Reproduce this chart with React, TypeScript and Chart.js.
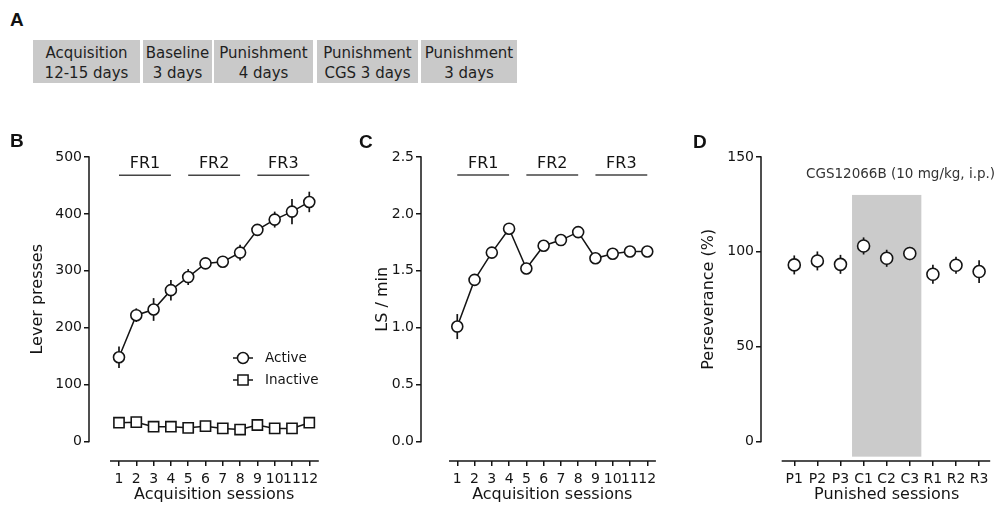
import React, { useEffect, useRef } from 'react';
import { Chart, registerables } from 'chart.js';

Chart.register(...registerables);

// ---------- data ----------
const sessions = [1, 2, 3, 4, 5, 6, 7, 8, 9, 10, 11, 12];
const activePresses = [148, 222, 232, 266, 289, 313, 316, 332, 372, 390, 404, 421];
const activeErr = [19, 12, 20, 18, 14, 8, 8, 14, 8, 14, 22, 18];
const inactivePresses = [33, 34, 26, 26, 24, 27, 23, 21, 29, 23, 23, 33];
const inactiveErr = [4, 3, 3, 3, 3, 3, 3, 3, 4, 3, 3, 4];

const lsPerMin = [1.01, 1.42, 1.66, 1.87, 1.52, 1.72, 1.77, 1.84, 1.61, 1.65, 1.67, 1.67];
const lsErr = [0.11, 0.04, 0.04, 0.05, 0.05, 0.03, 0.03, 0.04, 0.04, 0.04, 0.03, 0.04];

const punishedIndex = [1, 2, 3, 4, 5, 6, 7, 8, 9];
const punishedLabels = ['P1', 'P2', 'P3', 'C1', 'C2', 'C3', 'R1', 'R2', 'R3'];
const perseverance = [93.1, 95.2, 93.4, 103.1, 96.6, 99.1, 88.2, 92.9, 89.6];
const perseveranceErr = [5, 5, 5, 4.5, 4.5, 3.5, 5, 4.5, 6];

const pressTicks = [0, 100, 200, 300, 400, 500];
const lsTicks = [0, 0.5, 1.0, 1.5, 2.0, 2.5];
const perseveranceTicks = [0, 50, 100, 150];

const frGroups = [
  { label: 'FR1', from: 1, to: 4 },
  { label: 'FR2', from: 5, to: 8 },
  { label: 'FR3', from: 9, to: 12 },
];

const cgsBand = { from: 3.5, to: 6.5, top: 130, bottom: -8 };
const cgsLabel = 'CGS12066B (10 mg/kg, i.p.)';

const phaseLines = [
  ['Acquisition', '12-15 days'],
  ['Baseline', '3 days'],
  ['Punishment', '4 days'],
  ['Punishment', 'CGS 3 days'],
  ['Punishment', '3 days'],
];

// ---------- styles ----------
const FONT = '"DejaVu Sans", "Liberation Sans", sans-serif';
const INK = '#141414';
const BAND = '#cbcbcb';
const BOX = '#c9c9c9';

const CANVAS_TOP = 128;
const CANVAS_H = 378;
const PAD_TOP = 29; // chart top => y max at 157
const X_AXIS_H = 45; // chart bottom => 461
const ZERO_GAP = 19.5 / 284.5; // detached axes

type Series = {
  xs: number[];
  ys: number[];
  err: number[];
  style: 'circle' | 'rect';
  radius: number;
  line: boolean;
  label?: string;
};

type Spec = {
  left: number;
  width: number;
  yWidth: number;
  xMin: number;
  xMax: number;
  xAxisStart: number;
  yMax: number;
  yTicks: number[];
  xTicks: number[];
  xTickLabel: (v: number) => string;
  yTickLabel: (v: number) => string;
  xTickFont: number;
  yTitle: string;
  xTitle: string;
  yTitleGap: number;
  series: Series[];
  fr?: { lineY: number; textY: number };
  band?: boolean;
  bandLabel?: { x: number; y: number };
  legend?: { dx: number; dy: number; gap: number };
};

function decorPlugin(spec: Spec) {
  return {
    id: 'decor',
    beforeDatasetsDraw(chart: any) {
      const { ctx } = chart;
      const xs = chart.scales.x;
      const ys = chart.scales.y;
      ctx.save();
      if (spec.band) {
        const x1 = xs.getPixelForValue(cgsBand.from);
        const x2 = xs.getPixelForValue(cgsBand.to);
        const y1 = ys.getPixelForValue(cgsBand.top);
        const y2 = ys.getPixelForValue(cgsBand.bottom);
        ctx.fillStyle = BAND;
        ctx.fillRect(x1, y1, x2 - x1, y2 - y1);
      }
      ctx.strokeStyle = INK;
      ctx.lineWidth = 1.7;
      spec.series.forEach((s) => {
        s.xs.forEach((xv, i) => {
          const px = xs.getPixelForValue(xv);
          const t = ys.getPixelForValue(s.ys[i] + s.err[i]);
          const b = ys.getPixelForValue(s.ys[i] - s.err[i]);
          ctx.beginPath();
          ctx.moveTo(px, t);
          ctx.lineTo(px, b);
          ctx.stroke();
        });
      });
      ctx.restore();
    },
    afterDraw(chart: any) {
      const { ctx, chartArea } = chart;
      const xs = chart.scales.x;
      const ys = chart.scales.y;
      ctx.save();
      ctx.strokeStyle = INK;
      ctx.lineWidth = 1.5;
      // y axis line (0 .. max)
      ctx.beginPath();
      ctx.moveTo(chartArea.left, ys.getPixelForValue(0) + 0.75);
      ctx.lineTo(chartArea.left, ys.getPixelForValue(spec.yMax) - 0.75);
      ctx.stroke();
      // x axis line (detached)
      ctx.beginPath();
      ctx.moveTo(xs.getPixelForValue(spec.xAxisStart), chartArea.bottom);
      ctx.lineTo(xs.getPixelForValue(spec.xMax), chartArea.bottom);
      ctx.stroke();

      ctx.fillStyle = INK;
      ctx.textAlign = 'center';
      ctx.textBaseline = 'middle';

      // FR group annotations
      if (spec.fr) {
        const fr = spec.fr;
        ctx.strokeStyle = '#444';
        ctx.lineWidth = 1.5;
        ctx.font = `16px ${FONT}`;
        frGroups.forEach((g) => {
          const yl = ys.getPixelForValue(fr.lineY);
          ctx.beginPath();
          ctx.moveTo(xs.getPixelForValue(g.from), yl);
          ctx.lineTo(xs.getPixelForValue(g.to), yl);
          ctx.stroke();
          ctx.fillText(g.label, xs.getPixelForValue((g.from + g.to) / 2), ys.getPixelForValue(fr.textY));
        });
      }

      // band label
      if (spec.bandLabel) {
        ctx.fillStyle = '#333';
        ctx.font = `13.5px ${FONT}`;
        ctx.fillText(cgsLabel, xs.getPixelForValue(spec.bandLabel.x), ys.getPixelForValue(spec.bandLabel.y));
        ctx.fillStyle = INK;
      }

      // legend
      if (spec.legend) {
        const lg = spec.legend;
        spec.series.forEach((s, i) => {
          const cx = chartArea.left + lg.dx;
          const cy = chartArea.top + lg.dy + i * lg.gap;
          ctx.strokeStyle = INK;
          ctx.lineWidth = 1.5;
          ctx.beginPath();
          ctx.moveTo(cx - 10, cy);
          ctx.lineTo(cx + 10, cy);
          ctx.stroke();
          ctx.fillStyle = '#fff';
          ctx.beginPath();
          if (s.style === 'circle') {
            ctx.arc(cx, cy, s.radius, 0, Math.PI * 2);
          } else {
            const h = s.radius * Math.SQRT1_2;
            ctx.rect(cx - h, cy - h, 2 * h, 2 * h);
          }
          ctx.fill();
          ctx.stroke();
          ctx.fillStyle = INK;
          ctx.textAlign = 'left';
          ctx.font = `13.5px ${FONT}`;
          ctx.fillText(s.label || '', cx + 22, cy);
        });
        ctx.textAlign = 'center';
      }

      // axis titles
      ctx.font = `16px ${FONT}`;
      ctx.fillStyle = INK;
      const first = spec.xTicks[0];
      const last = spec.xTicks[spec.xTicks.length - 1];
      ctx.fillText(spec.xTitle, xs.getPixelForValue((first + last) / 2), chartArea.bottom + 33.5);
      ctx.save();
      ctx.translate(chartArea.left - spec.yTitleGap, ys.getPixelForValue(spec.yMax / 2));
      ctx.rotate(-Math.PI / 2);
      ctx.fillText(spec.yTitle, 0, 0);
      ctx.restore();
      ctx.restore();
    },
  };
}

function buildConfig(spec: Spec): any {
  const grid = {
    drawOnChartArea: false,
    drawTicks: true,
    tickLength: 5,
    color: INK,
    lineWidth: 1.5,
  };
  return {
    type: 'line',
    data: {
      datasets: spec.series.map((s) => ({
        label: s.label,
        data: s.xs.map((x, i) => ({ x, y: s.ys[i] })),
        showLine: s.line,
        borderColor: INK,
        borderWidth: 1.5,
        tension: 0,
        pointStyle: s.style,
        pointRadius: s.radius,
        pointBackgroundColor: '#ffffff',
        pointBorderColor: INK,
        pointBorderWidth: 1.6,
        clip: false,
      })),
    },
    options: {
      animation: false,
      responsive: false,
      events: [],
      layout: { padding: { left: 0, right: 0, top: PAD_TOP, bottom: 0 } },
      plugins: { legend: { display: false }, tooltip: { enabled: false } },
      scales: {
        x: {
          type: 'linear',
          min: spec.xMin,
          max: spec.xMax,
          afterBuildTicks: (sc: any) => {
            sc.ticks = spec.xTicks.map((v) => ({ value: v }));
          },
          afterFit: (sc: any) => {
            sc.height = X_AXIS_H;
          },
          border: { display: false },
          grid,
          ticks: {
            autoSkip: false,
            maxRotation: 0,
            minRotation: 0,
            padding: 5,
            color: INK,
            font: { family: FONT, size: spec.xTickFont },
            callback: (v: number) => spec.xTickLabel(v),
          },
        },
        y: {
          type: 'linear',
          min: -spec.yMax * ZERO_GAP,
          max: spec.yMax,
          afterBuildTicks: (sc: any) => {
            sc.ticks = spec.yTicks.map((v) => ({ value: v }));
          },
          afterFit: (sc: any) => {
            sc.width = spec.yWidth;
          },
          border: { display: false },
          grid,
          ticks: {
            padding: 2,
            color: INK,
            font: { family: FONT, size: 14 },
            callback: (v: number) => spec.yTickLabel(v),
          },
        },
      },
    },
    plugins: [decorPlugin(spec)],
  };
}

function Panel({ spec, rightEdge }: { spec: Spec; rightEdge: number }) {
  const ref = useRef<HTMLCanvasElement | null>(null);
  useEffect(() => {
    if (!ref.current) return;
    const cfg = buildConfig(spec);
    cfg.options.layout.padding.right = spec.left + spec.width - rightEdge;
    const chart = new Chart(ref.current, cfg);
    return () => chart.destroy();
  }, []);
  return (
    <canvas
      ref={ref}
      width={spec.width}
      height={CANVAS_H}
      style={{ position: 'absolute', left: spec.left, top: CANVAS_TOP, width: spec.width, height: CANVAS_H }}
    />
  );
}

const specB: Spec = {
  left: 0,
  width: 335,
  yWidth: 89,
  xMin: -0.734,
  xMax: 12.55,
  xAxisStart: 0.48,
  yMax: 500,
  yTicks: pressTicks,
  xTicks: sessions,
  xTickLabel: (v) => String(v),
  yTickLabel: (v) => String(v),
  xTickFont: 14,
  yTitle: 'Lever presses',
  xTitle: 'Acquisition sessions',
  yTitleGap: 51,
  series: [
    { xs: sessions, ys: activePresses, err: activeErr, style: 'circle', radius: 5.5, line: true, label: 'Active' },
    { xs: sessions, ys: inactivePresses, err: inactiveErr, style: 'rect', radius: 7.2, line: true, label: 'Inactive' },
  ],
  fr: { lineY: 468, textY: 488 },
  legend: { dx: 154, dy: 201, gap: 22 },
};

const specC: Spec = {
  left: 335,
  width: 335,
  yWidth: 86,
  xMin: -1.1,
  xMax: 12.5,
  xAxisStart: 0.52,
  yMax: 2.5,
  yTicks: lsTicks,
  xTicks: sessions,
  xTickLabel: (v) => String(v),
  yTickLabel: (v) => v.toFixed(1),
  xTickFont: 14,
  yTitle: 'LS / min',
  xTitle: 'Acquisition sessions',
  yTitleGap: 38,
  series: [{ xs: sessions, ys: lsPerMin, err: lsErr, style: 'circle', radius: 5.5, line: true }],
  fr: { lineY: 2.342, textY: 2.44 },
};

const specD: Spec = {
  left: 670,
  width: 332,
  yWidth: 91,
  xMin: -0.44,
  xMax: 9.48,
  xAxisStart: 0.455,
  yMax: 150,
  yTicks: perseveranceTicks,
  xTicks: punishedIndex,
  xTickLabel: (v) => punishedLabels[v - 1] || '',
  yTickLabel: (v) => String(v),
  xTickFont: 14,
  yTitle: 'Perseverance (%)',
  xTitle: 'Punished sessions',
  yTitleGap: 52,
  series: [{ xs: punishedIndex, ys: perseverance, err: perseveranceErr, style: 'circle', radius: 6, line: false }],
  band: true,
  bandLabel: { x: 5.6, y: 141 },
};

const phaseBoxes = [
  { left: 33, width: 107 },
  { left: 143, width: 69 },
  { left: 214, width: 99 },
  { left: 317, width: 101 },
  { left: 421, width: 96 },
];

const letterStyle: React.CSSProperties = {
  position: 'absolute',
  fontFamily: '"Liberation Sans", Arial, sans-serif',
  fontWeight: 'bold',
  fontSize: 19,
  lineHeight: '19px',
  color: '#111',
};

export default function App() {
  return (
    <div
      style={{
        position: 'fixed',
        left: 0,
        top: 0,
        width: 1002,
        height: 506,
        background: '#fff',
        overflow: 'hidden',
      }}
    >
      <div style={{ ...letterStyle, left: 10, top: 10 }}>A</div>
      {phaseLines.map((lines, i) => (
        <div
          key={i}
          style={{
            position: 'absolute',
            left: phaseBoxes[i].left,
            top: 40,
            width: phaseBoxes[i].width,
            height: 43,
            background: BOX,
            display: 'flex',
            flexDirection: 'column',
            justifyContent: 'center',
            alignItems: 'center',
            fontFamily: FONT,
            fontSize: 15,
            lineHeight: '20px',
            color: '#1f1f1f',
            paddingTop: 2,
            boxSizing: 'border-box',
            whiteSpace: 'nowrap',
          }}
        >
          <div>{lines[0]}</div>
          <div>{lines[1]}</div>
        </div>
      ))}
      <Panel spec={specB} rightEdge={318.8} />
      <Panel spec={specC} rightEdge={655.9} />
      <Panel spec={specD} rightEdge={990.2} />
      <div style={{ ...letterStyle, left: 10, top: 131 }}>B</div>
      <div style={{ ...letterStyle, left: 359, top: 132 }}>C</div>
      <div style={{ ...letterStyle, left: 693, top: 132 }}>D</div>
    </div>
  );
}
